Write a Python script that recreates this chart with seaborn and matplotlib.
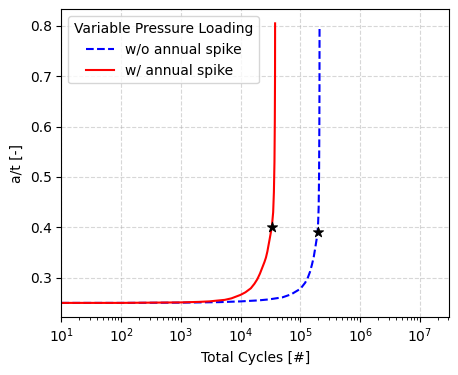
import matplotlib
matplotlib.use("Agg")
import matplotlib.pyplot as plt
import seaborn as sns
import pandas as pd

# Data
cycles_wo = [10, 100, 1e3, 4.4e3, 1e4, 2e4, 3e4, 5e4, 7e4, 1e5, 1.2e5, 1.33e5,
             1.45e5, 1.56e5, 1.67e5, 1.77e5, 1.86e5, 1.93e5, 1.98e5, 2.02e5,
             2.05e5, 2.07e5, 2.085e5, 2.09e5]
at_wo = [0.25, 0.25, 0.2505, 0.2515, 0.253, 0.255, 0.257, 0.261, 0.267, 0.278,
         0.29, 0.30, 0.312, 0.326, 0.341, 0.359, 0.375, 0.388, 0.41, 0.44,
         0.50, 0.58, 0.68, 0.80]

cycles_w = [10, 100, 1e3, 2e3, 3e3, 4e3, 5.4e3, 7e3, 1e4, 1.2e4, 1.48e4, 1.7e4,
            1.9e4, 2.1e4, 2.3e4, 2.5e4, 2.65e4, 2.8e4, 2.9e4, 3.05e4, 3.2e4,
            3.35e4, 3.5e4, 3.6e4, 3.68e4, 3.73e4, 3.76e4, 3.77e4]
at_w = [0.25, 0.25, 0.251, 0.252, 0.253, 0.2545, 0.256, 0.259, 0.266, 0.271,
        0.279, 0.288, 0.297, 0.308, 0.32, 0.331, 0.34, 0.352, 0.362, 0.376,
        0.39, 0.405, 0.43, 0.47, 0.53, 0.61, 0.70, 0.805]

star_cycles = [2.0e5, 3.4e4]
star_at = [0.39, 0.40]

labels = ["w/o annual spike", "w/ annual spike"]
legend_title = "Variable Pressure Loading"

fig, ax = plt.subplots(figsize=(4.58, 3.75), dpi=100)
fig.subplots_adjust(left=0.134, right=0.981, top=0.975, bottom=0.155)

df_wo = pd.DataFrame({"N": cycles_wo, "a": at_wo})
df_w = pd.DataFrame({"N": cycles_w, "a": at_w})

sns.lineplot(data=df_wo, x="N", y="a", ax=ax, color="blue", linestyle="--",
             estimator=None, sort=False, label=labels[0], linewidth=1.5)
sns.lineplot(data=df_w, x="N", y="a", ax=ax, color="red", linestyle="-",
             estimator=None, sort=False, label=labels[1], linewidth=1.5)
sns.scatterplot(x=star_cycles, y=star_at, ax=ax, marker="*", color="black",
                s=60, edgecolor="black", zorder=5, legend=False)

ax.set_xscale("log")
ax.set_xlim(10, 3.1e7)
ax.set_xlabel("Total Cycles [#]")
ax.set_ylabel("a/t [-]")
ax.grid(True, linestyle="--", alpha=0.5)
ax.legend(title=legend_title, loc="upper left")

fig.savefig("out.png", dpi=100)
